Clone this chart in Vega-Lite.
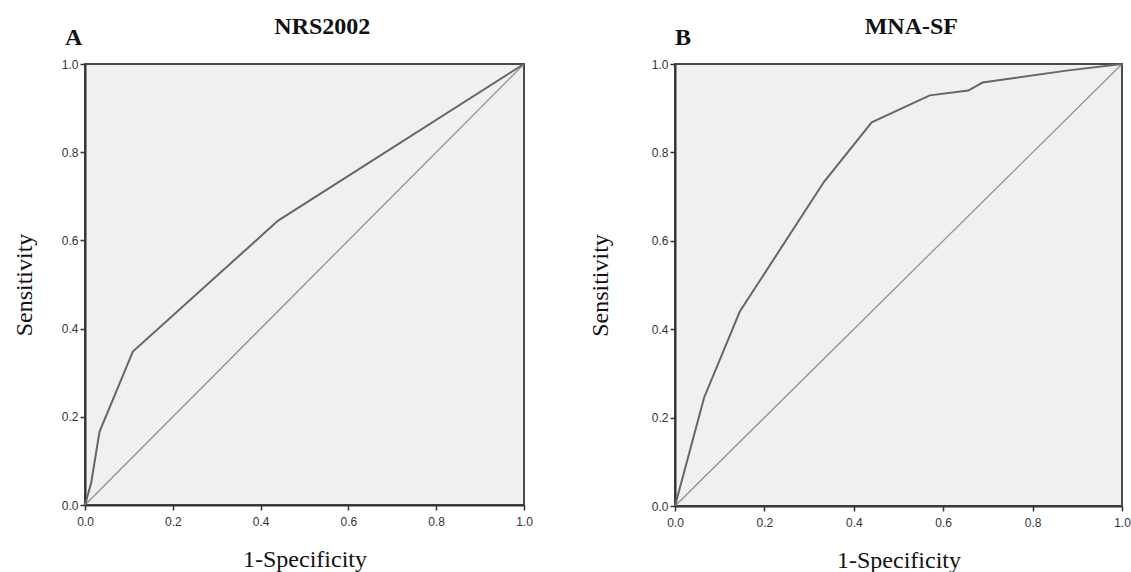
{
  "$schema": "https://vega.github.io/schema/vega-lite/v6.json",
  "background": "white",
  "padding": {"left": 11, "top": 15, "right": 0, "bottom": 0},
  "spacing": 53,
  "datasets": {
    "nrs": [
      {"fpr": 0, "tpr": 0},
      {"fpr": 0.014, "tpr": 0.05},
      {"fpr": 0.033, "tpr": 0.166},
      {"fpr": 0.109, "tpr": 0.348},
      {"fpr": 0.44, "tpr": 0.645},
      {"fpr": 1, "tpr": 1}
    ],
    "mna": [
      {"fpr": 0, "tpr": 0},
      {"fpr": 0.065, "tpr": 0.245},
      {"fpr": 0.145, "tpr": 0.44},
      {"fpr": 0.333, "tpr": 0.733},
      {"fpr": 0.44, "tpr": 0.868},
      {"fpr": 0.57, "tpr": 0.929},
      {"fpr": 0.656, "tpr": 0.94},
      {"fpr": 0.688, "tpr": 0.958},
      {"fpr": 0.876, "tpr": 0.985},
      {"fpr": 1, "tpr": 1}
    ],
    "diag": [
      {"fpr": 0, "tpr": 0},
      {"fpr": 1, "tpr": 1}
    ]
  },
  "hconcat": [
    {
      "title": {"text": "NRS2002", "anchor": "middle", "frame": "bounds", "dx": 50, "offset": -14},
      "vconcat": [
        {
          "title": {"text": "A", "anchor": "start", "frame": "group", "dx": -20, "offset": 8},
          "width": 439,
          "height": 441,
          "layer": [
            {
              "data": {"name": "diag"},
              "mark": {"type": "line", "color": "#929292", "strokeWidth": 1.3},
              "encoding": {
                "x": {"field": "fpr", "type": "quantitative", "scale": {"domain": [0, 1], "nice": false}, "axis": {"title": "1-Specificity", "values": [0, 0.2, 0.4, 0.6, 0.8, 1.0], "format": ".1f"}},
                "y": {"field": "tpr", "type": "quantitative", "scale": {"domain": [0, 1], "nice": false}, "axis": {"title": "Sensitivity", "values": [0, 0.2, 0.4, 0.6, 0.8, 1.0], "format": ".1f", "titlePadding": 25}}
              }
            },
            {
              "data": {"name": "nrs"},
              "mark": {"type": "line", "color": "#666666", "strokeWidth": 2},
              "encoding": {
                "x": {"field": "fpr", "type": "quantitative"},
                "y": {"field": "tpr", "type": "quantitative"},
                "order": {"field": "fpr", "type": "quantitative"}
              }
            }
          ]
        }
      ]
    },
    {
      "title": {"text": "MNA-SF", "anchor": "middle", "frame": "bounds", "dx": 52, "offset": -14},
      "vconcat": [
        {
          "title": {"text": "B", "anchor": "start", "frame": "group", "dx": 0, "offset": 8},
          "width": 447,
          "height": 442,
          "layer": [
            {
              "data": {"name": "diag"},
              "mark": {"type": "line", "color": "#929292", "strokeWidth": 1.3},
              "encoding": {
                "x": {"field": "fpr", "type": "quantitative", "scale": {"domain": [0, 1], "nice": false}, "axis": {"title": "1-Specificity", "values": [0, 0.2, 0.4, 0.6, 0.8, 1.0], "format": ".1f"}},
                "y": {"field": "tpr", "type": "quantitative", "scale": {"domain": [0, 1], "nice": false}, "axis": {"title": "Sensitivity", "values": [0, 0.2, 0.4, 0.6, 0.8, 1.0], "format": ".1f", "titlePadding": 39}}
              }
            },
            {
              "data": {"name": "mna"},
              "mark": {"type": "line", "color": "#666666", "strokeWidth": 2},
              "encoding": {
                "x": {"field": "fpr", "type": "quantitative"},
                "y": {"field": "tpr", "type": "quantitative"},
                "order": {"field": "fpr", "type": "quantitative"}
              }
            }
          ]
        }
      ]
    }
  ],
  "config": {
    "view": {"fill": "#f0f0f0", "stroke": "#4a4a4a", "strokeWidth": 2},
    "title": {"font": "Liberation Serif", "fontSize": 24, "fontWeight": "bold", "color": "#111111"},
    "concat": {"spacing": 0},
    "axis": {
      "grid": false,
      "domainColor": "#333333",
      "domainWidth": 2,
      "tickColor": "#333333",
      "tickWidth": 1.5,
      "tickSize": 5,
      "labelFont": "Liberation Sans",
      "labelFontSize": 12,
      "labelColor": "#333333",
      "labelFlush": false,
      "labelPadding": 2,
      "titleFont": "Liberation Serif",
      "titleFontSize": 24,
      "titleFontWeight": "normal",
      "titleColor": "#111111"
    },
    "axisX": {"titlePadding": 20, "labelPadding": 6}
  }
}
